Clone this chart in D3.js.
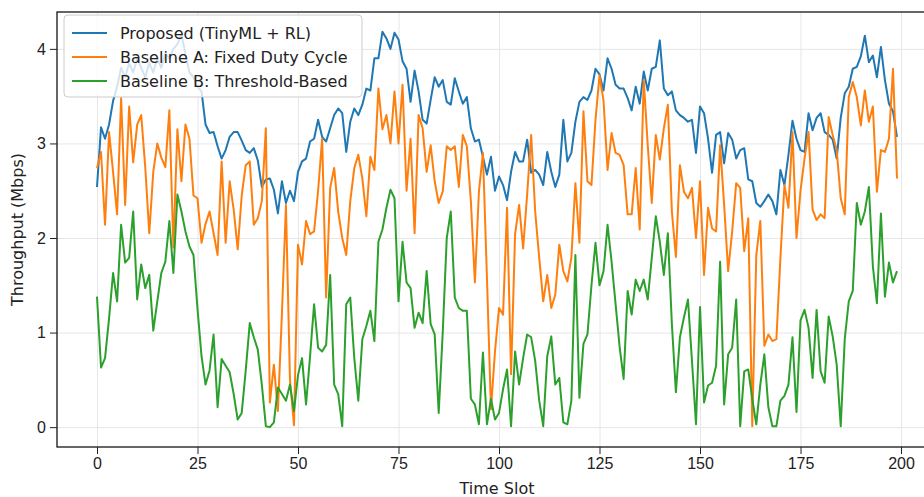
<!DOCTYPE html>
<html>
<head>
<meta charset="utf-8">
<script src="https://cdn.jsdelivr.net/npm/d3@7"></script>
<style>
    body { margin: 0; background: #fff; }
    svg { display: block; font-family: "DejaVu Sans", sans-serif; }
    .grid line { stroke: #e6e6e6; stroke-width: 1; }
    .grid path { display: none; }
    .axis text { font-size: 16px; fill: #222; }
    .axis line { stroke: #222; }
    .axis path { display: none; }
</style>
</head>
<body>
<div class="chart"></div>
<script>

var slots = d3.range(0, 200);

var xTicks = [0, 25, 50, 75, 100, 125, 150, 175, 200];
var yTicks = [0, 1, 2, 3, 4];

var seriesNames = [
    "Proposed (TinyML + RL)",
    "Baseline A: Fixed Duty Cycle",
    "Baseline B: Threshold-Based"
];

// values, one per time slot
var proposed = [
    2.54, 3.17, 3.05, 3.2, 3.45, 3.6, 3.8, 3.7, 3.85, 3.75,
    3.9, 3.8, 3.7, 3.85, 3.75, 3.9, 3.8, 3.95, 3.9, 4.0,
    4.05, 4.15, 3.95, 3.75, 3.7, 3.6, 3.55, 3.2, 3.11, 3.12,
    2.97, 2.84, 2.93, 3.07, 3.12, 3.12, 3.03, 2.93, 2.9, 2.95,
    2.82, 2.54, 2.62, 2.63, 2.51, 2.26, 2.6, 2.37, 2.5, 2.39,
    2.7, 2.81, 2.84, 3.02, 3.05, 3.25, 3.07, 3.02, 3.16, 3.3,
    3.37, 3.32, 2.91, 3.23, 3.37, 3.3, 3.41, 3.58, 3.56, 3.9,
    3.9, 4.18, 4.11, 4.0, 4.17, 4.1, 3.87, 3.79, 3.44, 3.77,
    3.55, 3.25, 3.21, 3.46, 3.7, 3.6, 3.67, 3.44, 3.41, 3.69,
    3.55, 3.42, 3.49, 3.16, 3.02, 3.04, 2.86, 2.67, 2.86, 2.5,
    2.65, 2.56, 2.4, 2.7, 2.91, 2.81, 2.81, 3.04, 2.69, 2.72,
    2.67, 2.56, 2.91, 2.7, 2.54, 2.67, 3.25, 2.81, 2.9, 3.23,
    3.44, 3.49, 3.46, 3.56, 3.79, 3.73, 3.56, 3.9, 3.79, 3.62,
    3.58, 3.58, 3.48, 3.35, 3.6, 3.42, 3.76, 3.56, 3.79, 3.81,
    4.09, 3.58, 3.51, 3.55, 3.35, 3.3, 3.27, 3.23, 3.25, 2.9,
    3.39, 3.32, 3.05, 2.69, 3.09, 3.12, 2.79, 3.11, 3.04, 2.84,
    2.93, 2.95, 2.62, 2.6, 2.37, 2.33, 2.39, 2.46, 2.39, 2.25,
    2.72, 2.56, 2.88, 3.24, 3.05, 2.93, 2.91, 3.32, 3.14, 3.27,
    3.32, 3.12, 3.09, 3.04, 2.84, 3.27, 3.53, 3.6, 3.79, 3.81,
    3.92, 4.14, 3.86, 3.93, 3.7, 4.02, 3.67, 3.42, 3.34, 3.07
];

var baselineA = [
    2.74, 2.91, 2.14, 3.12, 2.7, 2.25, 3.48, 2.35, 3.39, 2.8,
    3.2, 3.3, 2.75, 2.05, 2.7, 3.0, 2.85, 2.75, 3.35, 1.9,
    3.15, 2.6, 3.2, 3.05, 2.45, 2.42, 1.95, 2.15, 2.28, 2.05,
    1.82, 2.81, 1.95, 2.6, 2.3, 1.88, 2.45, 2.77, 2.81, 2.14,
    2.21, 2.39, 3.16, 0.26, 0.66, 0.17, 1.2, 2.35, 0.5, 0.02,
    1.93, 1.72, 2.18, 2.04, 2.07, 2.5, 3.05, 1.37, 2.53, 2.74,
    2.28, 2.0, 1.82, 2.39, 2.74, 2.88, 2.63, 2.23, 2.86, 2.72,
    3.58, 3.15, 3.3, 3.0, 3.55, 3.0, 3.62, 2.5, 3.05, 2.05,
    3.3, 3.16, 2.7, 2.98, 2.6, 2.37, 2.49, 2.97, 2.93, 2.97,
    2.54, 3.09, 2.97, 2.39, 1.53, 2.49, 2.9, 1.58, 0.19, 0.8,
    1.26, 1.19, 2.32, 0.56, 2.04, 2.35, 1.89, 2.46, 3.09, 2.28,
    1.79, 1.33, 1.61, 1.26, 1.4, 1.93, 1.65, 1.54, 1.79, 2.58,
    1.95, 3.34, 2.6, 2.56, 3.25, 3.72, 3.45, 2.72, 3.11, 2.9,
    2.88, 2.77, 2.25, 2.25, 2.74, 2.09, 3.67, 2.98, 2.37, 3.09,
    2.83, 3.16, 3.41, 2.28, 1.8, 2.77, 2.49, 2.42, 2.53, 2.0,
    2.6, 1.61, 2.32, 2.1, 2.07, 2.98, 2.35, 1.65, 2.07, 2.58,
    2.53, 1.86, 2.21, 0.01, 1.82, 2.18, 0.86, 0.98, 0.91, 0.93,
    1.79, 2.56, 2.32, 3.12, 2.0, 2.5, 2.84, 3.12, 2.3, 2.19,
    2.25, 2.21, 3.28, 3.09, 2.93, 2.42, 2.25, 3.49, 3.65, 3.49,
    3.19, 3.56, 3.23, 3.39, 2.49, 2.93, 2.91, 3.05, 3.79, 2.63
];

var baselineB = [
    1.38, 0.63, 0.73, 1.15, 1.63, 1.33, 2.14, 1.74, 1.79, 2.28,
    1.35, 1.72, 1.47, 1.61, 1.02, 1.33, 1.63, 1.75, 2.18, 1.63,
    2.46, 2.28, 2.07, 1.91, 1.82, 1.25, 0.75, 0.45, 0.6, 0.98,
    0.21, 0.72, 0.65, 0.58, 0.35, 0.08, 0.15, 0.6, 1.1, 0.95,
    0.82, 0.45, 0.01, 0.0, 0.05, 0.42, 0.35, 0.28, 0.45, 0.17,
    0.55, 0.73, 0.24, 0.75, 1.3, 0.84, 0.8, 0.87, 1.61, 0.45,
    0.35, 0.01, 1.3, 1.37, 0.73, 0.28, 0.93, 1.07, 1.23, 0.91,
    1.96, 2.09, 2.32, 2.51, 2.42, 1.33, 1.96, 1.53, 1.47, 1.05,
    1.21, 1.1, 1.65, 1.09, 0.98, 0.15, 1.0, 2.0, 2.28, 1.37,
    1.26, 1.23, 1.23, 0.3, 0.24, 0.03, 0.79, 0.03, 0.3, 0.08,
    0.15, 0.4, 0.61, 0.01, 0.8, 0.45, 0.73, 0.98, 0.95, 0.7,
    0.28, 0.01, 0.75, 0.96, 0.45, 0.52, 0.05, 0.03, 0.28, 1.82,
    0.31, 0.88, 0.98, 1.5, 1.95, 1.5, 1.65, 2.14, 1.75, 1.3,
    0.85, 0.51, 1.44, 1.19, 1.56, 1.44, 1.56, 1.35, 1.79, 2.23,
    1.96, 1.61, 2.05, 1.09, 0.37, 0.95, 1.16, 1.35, 0.7, 0.03,
    1.27, 0.26, 0.44, 0.47, 0.65, 1.75, 0.24, 0.77, 0.84, 1.35,
    0.01, 0.59, 0.61, 0.3, 0.03, 0.45, 0.77, 0.21, 0.01, 0.01,
    0.28, 0.33, 0.45, 0.95, 0.16, 1.13, 1.24, 1.05, 0.52, 1.24,
    0.59, 0.47, 1.17, 0.96, 0.66, 0.01, 0.93, 1.33, 1.44, 2.37,
    2.14, 2.28, 2.54, 1.7, 1.31, 2.26, 1.38, 1.74, 1.53, 1.65
];

var colors = ["#1f77b4", "#ff7f0e", "#2ca02c"];

var W = 924, H = 497;
var frame = { left: 57, right: 937, top: 12, bottom: 447 };

var svg = d3.select(".chart").append("svg")
    .attr("width", W)
    .attr("height", H);

// matplotlib style 5% padding on both axes
var x = d3.scaleLinear()
    .domain([-9.95, 208.95])
    .range([frame.left, frame.right]);

var y = d3.scaleLinear()
    .domain([-0.21, 4.39])
    .range([frame.bottom, frame.top]);

var plotH = frame.bottom - frame.top,
    plotW = frame.right - frame.left;

// grid
svg.append("g")
    .attr("class", "grid")
    .attr("transform", "translate(0," + frame.bottom + ")")
    .call(d3.axisBottom(x).tickValues(xTicks).tickSize(-plotH).tickFormat(""));

svg.append("g")
    .attr("class", "grid")
    .attr("transform", "translate(" + frame.left + ",0)")
    .call(d3.axisLeft(y).tickValues(yTicks).tickSize(-plotW).tickFormat(""));

// lines
var line = d3.line()
    .x(function(d, i) { return x(slots[i]); })
    .y(function(d) { return y(d); });

[proposed, baselineA, baselineB].forEach(function(vals, k) {
    svg.append("path")
        .datum(vals)
        .attr("fill", "none")
        .attr("stroke", colors[k])
        .attr("stroke-width", 2)
        .attr("stroke-linejoin", "round")
        .attr("d", line);
});

// frame
svg.append("rect")
    .attr("x", frame.left)
    .attr("y", frame.top)
    .attr("width", plotW)
    .attr("height", plotH)
    .attr("fill", "none")
    .attr("stroke", "#000")
    .attr("stroke-width", 1.2);

// axes
svg.append("g")
    .attr("class", "axis")
    .attr("transform", "translate(0," + frame.bottom + ")")
    .call(d3.axisBottom(x).tickValues(xTicks).tickSize(7).tickPadding(4));

svg.append("g")
    .attr("class", "axis")
    .attr("transform", "translate(" + frame.left + ",0)")
    .call(d3.axisLeft(y).tickValues(yTicks).tickSize(7).tickPadding(4)
        .tickFormat(d3.format("d")));

svg.append("text")
    .attr("x", (frame.left + frame.right) / 2)
    .attr("y", 494)
    .attr("text-anchor", "middle")
    .style("font-size", "16px")
    .style("fill", "#222")
    .text("Time Slot");

svg.append("text")
    .attr("transform", "translate(23," + (frame.top + frame.bottom) / 2 + ") rotate(-90)")
    .attr("text-anchor", "middle")
    .style("font-size", "16px")
    .style("fill", "#222")
    .text("Throughput (Mbps)");

// legend
var legend = svg.append("g")
    .attr("transform", "translate(64,15)");

legend.append("rect")
    .attr("width", 298)
    .attr("height", 82)
    .attr("rx", 4)
    .attr("fill", "#fff")
    .attr("fill-opacity", 0.8)
    .attr("stroke", "#cccccc");

var item = legend.selectAll(".item")
    .data(seriesNames)
    .enter().append("g")
    .attr("class", "item")
    .attr("transform", function(d, i) {
        return "translate(0," + (18 + i * 24) + ")";
    });

item.append("line")
    .attr("x1", 8)
    .attr("x2", 43)
    .attr("stroke", function(d, i) { return colors[i]; })
    .attr("stroke-width", 2);

item.append("text")
    .attr("x", 56)
    .attr("dy", "0.35em")
    .style("font-size", "16px")
    .style("fill", "#222")
    .text(function(d) { return d; });

</script>
